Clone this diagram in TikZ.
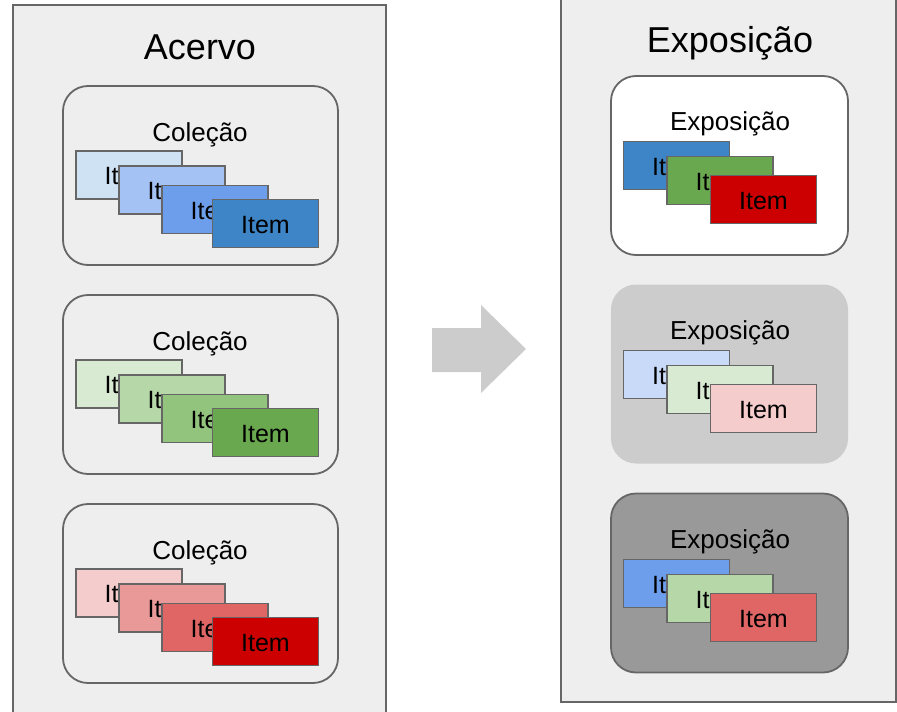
\documentclass[tikz,border=0pt]{standalone}
\usepackage{fontspec}
\setmainfont{Liberation Sans}
\usepackage{tikz}
\usetikzlibrary{positioning}
\definecolor{panelgray}{HTML}{EEEEEE}
\definecolor{bordergray}{HTML}{666666}
\definecolor{lightgray2}{HTML}{CCCCCC}
\definecolor{midgray}{HTML}{999999}
\definecolor{blue1}{HTML}{CFE2F3}
\definecolor{blue2}{HTML}{A4C2F4}
\definecolor{blue3}{HTML}{6D9EEB}
\definecolor{blue4}{HTML}{3D85C6}
\definecolor{blue5}{HTML}{C9DAF8}
\definecolor{green1}{HTML}{D9EAD3}
\definecolor{green2}{HTML}{B6D7A8}
\definecolor{green3}{HTML}{93C47D}
\definecolor{green4}{HTML}{6AA84F}
\definecolor{red1}{HTML}{F4CCCC}
\definecolor{red2}{HTML}{EA9999}
\definecolor{red3}{HTML}{E06666}
\definecolor{red4}{HTML}{CC0000}
\tikzset{x=1pt, y=-1pt, font=\fontsize{25}{25}\selectfont}
\tikzstyle{panel} = [draw=bordergray, line width=1.8pt, fill=panelgray, rectangle]
\tikzstyle{colbox} = [draw=bordergray, line width=1.8pt, fill=panelgray, rectangle, rounded corners=25pt, minimum width=275pt, minimum height=179pt]
\tikzstyle{expbox} = [line width=1.8pt, rectangle, rounded corners=25pt, minimum width=237pt, minimum height=179pt]
\tikzstyle{itembox} = [draw=bordergray, line width=1.8pt, rectangle, minimum width=106pt, minimum height=48pt, inner sep=0pt, text height=19pt, text depth=0pt]
\tikzstyle{heading} = [anchor=base, font=\fontsize{36}{36}\selectfont]
\tikzstyle{subheading} = [anchor=base, font=\fontsize{26}{26}\selectfont]
\tikzstyle{bigarrow} = [fill=lightgray2]

\begin{document}
\begin{tikzpicture}
		\useasboundingbox (0,0) rectangle (897,712);
		% acervo
		\node [panel, minimum width=373pt, minimum height=709pt] (acervo) at (199.5,359.5) {};
		\node [heading] (acervo-title) at (200,59) {Acervo};

		\node [colbox] (col1) at (200.5,175.5) {};
		\node [subheading] (col1-title) at (200,141) {Coleção};
		\node [itembox, fill=blue1] (col1-i1) at (129,175) {Item};
		\node [itembox, fill=blue2] (col1-i2) at (172,190) {Item};
		\node [itembox, fill=blue3] (col1-i3) at (215,209.5) {Item};
		\node [itembox, fill=blue4] (col1-i4) at (265.5,223.5) {Item};

		\node [colbox] (col2) at (200.5,384.5) {};
		\node [subheading] (col2-title) at (200,350) {Coleção};
		\node [itembox, fill=green1] (col2-i1) at (129,384) {Item};
		\node [itembox, fill=green2] (col2-i2) at (172,399) {Item};
		\node [itembox, fill=green3] (col2-i3) at (215,418.5) {Item};
		\node [itembox, fill=green4] (col2-i4) at (265.5,432.5) {Item};

		\node [colbox] (col3) at (200.5,593.5) {};
		\node [subheading] (col3-title) at (200,559) {Coleção};
		\node [itembox, fill=red1] (col3-i1) at (129,593) {Item};
		\node [itembox, fill=red2] (col3-i2) at (172,608) {Item};
		\node [itembox, fill=red3] (col3-i3) at (215,627.5) {Item};
		\node [itembox, fill=red4] (col3-i4) at (265.5,641.5) {Item};

		% seta
		\fill [bigarrow] (432,328) -- (481,328) -- (481,305) -- (526,349) -- (481,393) -- (481,372) -- (432,372) -- cycle;

		% exposicoes
		\node [panel, minimum width=335pt, minimum height=705pt] (expo) at (728.5,349.5) {};
		\node [heading] (expo-title) at (730,52) {Exposição};

		\node [expbox, draw=bordergray, fill=white] (exp1) at (729.5,165.5) {};
		\node [subheading] (exp1-title) at (730,130) {Exposição};
		\node [itembox, fill=blue4] (exp1-i1) at (676.5,165.5) {Item};
		\node [itembox, fill=green4] (exp1-i2) at (720,180.5) {Item};
		\node [itembox, fill=red4] (exp1-i3) at (763.5,199.5) {Item};

		\node [expbox, fill=lightgray2] (exp2) at (729.5,374) {};
		\node [subheading] (exp2-title) at (730,339) {Exposição};
		\node [itembox, fill=blue5] (exp2-i1) at (676.5,374.5) {Item};
		\node [itembox, fill=green1] (exp2-i2) at (720,389.5) {Item};
		\node [itembox, fill=red1] (exp2-i3) at (763.5,408.5) {Item};

		\node [expbox, draw=bordergray, fill=midgray] (exp3) at (729.5,583) {};
		\node [subheading] (exp3-title) at (730,548) {Exposição};
		\node [itembox, fill=blue3] (exp3-i1) at (676.5,583.5) {Item};
		\node [itembox, fill=green2] (exp3-i2) at (720,598.5) {Item};
		\node [itembox, fill=red3] (exp3-i3) at (763.5,617.5) {Item};
	\end{tikzpicture}
\end{document}
